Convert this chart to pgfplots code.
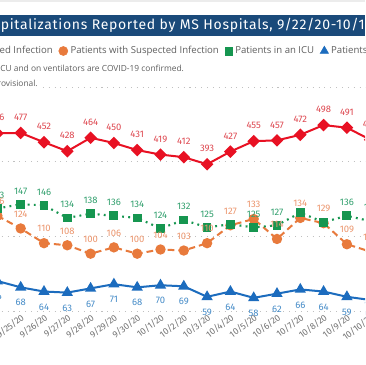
\documentclass[border=0pt]{standalone}
\usepackage{pgfplots}
\pgfplotsset{compat=1.18}
\usepackage{fontspec}
\setmainfont{Fira Sans}
\newfontfamily\osans{Open Sans}
\newfontfamily\titlefont{Fira Sans}[LetterSpace=5]
\definecolor{cred}{RGB}{232,17,35}
\definecolor{corange}{RGB}{232,122,60}
\definecolor{cgreen}{RGB}{22,150,80}
\definecolor{cblue}{RGB}{28,108,190}
\definecolor{lred}{RGB}{222,72,80}
\definecolor{lorange}{RGB}{236,150,110}
\definecolor{lgreen}{RGB}{50,160,110}
\definecolor{lblue}{RGB}{70,140,200}
\definecolor{band}{RGB}{26,74,122}
\definecolor{txtgray}{RGB}{95,95,95}
\definecolor{tickgray}{RGB}{115,115,115}
\pgfplotsset{
  common/.style={scale only axis, width=307.5pt, height=168pt,
    at={(-7.5pt,40.5pt)}, anchor=south west,
    xmin=-0.3176, xmax=17.279,
    /pgf/number format/assume math mode=true},
  lab/.style={draw=none, mark=none, nodes near coords, point meta=y,
    every node near coord/.style={anchor=center, yshift=#1,
      font=\fontsize{7.1pt}{8pt}\selectfont, inner sep=0pt}},
}
\begin{document}
\begin{tikzpicture}
\path[use as bounding box] (0,0) rectangle (273.75pt,273.75pt);
\clip (0,0) rectangle (273.75pt,273.75pt);
\fill[white] (0,0) rectangle (273.75pt,273.75pt);
\fill[gray!15] (0,271.9pt) rectangle (273.75pt,273.75pt);
\fill[band] (0,246.5pt) rectangle (273.75pt,262.5pt);
\node[anchor=base west, text=white, font=\titlefont\fontsize{10.5pt}{12pt}\selectfont, inner sep=0pt]
  at (0.4pt,251.6pt) {\llap{COVID-19 Hos}pitalizations Reported by MS Hospitals, 9/22/20-10/11/20};

\begin{axis}[common, ymin=0, ymax=600, ytick={0,200,400,600}, yticklabels={},
  ymajorgrids, grid style={tickgray!45, line width=0.7pt, dash pattern=on 0.8pt off 3.6pt},
  axis line style={draw=none}, major tick style={draw=none},
  xtick={0,...,17},
  xticklabels={9/24/20,9/25/20,9/26/20,9/27/20,9/28/20,9/29/20,9/30/20,10/1/20,10/2/20,10/3/20,10/4/20,10/5/20,10/6/20,10/7/20,10/8/20,10/9/20,10/10/20,10/11/20},
  xticklabel style={rotate=37, anchor=north east, font=\fontsize{6.8pt}{8pt}\selectfont, text=tickgray, inner sep=1pt},
  ]
\addplot[cred, line width=1.5pt, mark=square*, mark size=2.6pt, mark options={rotate=45, solid}]
  coordinates {(0,476)(1,477)(2,452)(3,428)(4,464)(5,450)(6,431)(7,419)(8,412)(9,393)(10,427)(11,455)(12,457)(13,472)(14,498)(15,491)(16,459)};
\addplot[lab=11.6pt, every node near coord/.append style={text=lred}]
  coordinates {(0,476)(1,477)(2,452)(3,428)(4,464)(5,450)(6,431)(7,419)(8,412)(9,393)(10,427)(11,455)(12,457)(13,472)(14,498)(15,491)(16,459)};
\end{axis}

\begin{axis}[common, ymin=45.5, ymax=258.5, hide axis,
  legend style={at={(-0.243,1.1607)}, anchor=west, draw=none, fill=none,
    font=\osans\fontsize{7.2pt}{9pt}\selectfont, text=txtgray, inner sep=0pt,
    /tikz/every even column/.append style={column sep=2.5pt}},
  legend columns=-1,
  legend image code/.code={\draw[#1] plot coordinates {(0.1cm,0cm)};},
  ]
\addlegendimage{only marks, mark=square*, mark size=2.6pt, mark options={rotate=45}, cred}
\addlegendentry{Patients with Confirmed Infection}
\addlegendimage{only marks, mark=*, mark size=3.4pt, corange}
\addlegendentry{Patients with Suspected Infection}
\addlegendimage{only marks, mark=square*, mark size=2.9pt, cgreen}
\addlegendentry{Patients in an ICU}
\addlegendimage{only marks, mark=triangle*, mark size=3.6pt, cblue}
\addlegendentry{Patients on Ventilators}

\addplot[forget plot, corange, line width=1.5pt, dash pattern=on 5pt off 3pt, mark=*, mark size=3.1pt, mark options={solid}]
  coordinates {(0,136)(1,124)(2,110)(3,108)(4,100)(5,106)(6,100)(7,104)(8,103)(9,110)(10,127)(11,133)(12,114)(13,134)(14,129)(15,109)(16,102)};
\addplot[forget plot, cgreen, line width=1.6pt, dash pattern=on 1.4pt off 3.2pt, mark=square*, mark size=2.5pt, mark options={solid}]
  coordinates {(0,143)(1,147)(2,146)(3,134)(4,138)(5,136)(6,134)(7,124)(8,132)(9,125)(10,128)(11,125)(12,127)(13,139)(14,130)(15,136)(16,131)};
\addplot[forget plot, cblue, line width=1.5pt, mark=triangle*, mark size=3.4pt, mark options={solid}]
  coordinates {(0,74)(1,68)(2,64)(3,63)(4,67)(5,71)(6,68)(7,70)(8,69)(9,59)(10,64)(11,58)(12,62)(13,66)(14,64)(15,59)(16,56)};

\addplot[forget plot, lab=10pt, every node near coord/.append style={text=lgreen}]
  coordinates {(0,143)(1,147)(2,146)(3,134)(4,138)(5,136)(6,134)(7,124)(8,132)(9,125)(11,125)(12,127)(15,136)(16,131)};
\addplot[forget plot, lab=10.8pt, every node near coord/.append style={text=lorange}]
  coordinates {(0,136)(1,124)(2,110)(3,108)(4,100)(5,106)(6,100)(7,104)(8,103)(9,110)(10,127)(11,133)(12,114)(13,134)(14,129)(15,109)(16,102)};
\addplot[forget plot, lab=-11.6pt, every node near coord/.append style={text=lblue}]
  coordinates {(0,74)(1,68)(2,64)(3,63)(4,67)(5,71)(6,68)(7,70)(8,69)(9,59)(10,64)(11,58)(12,62)(13,66)(14,64)(15,59)(16,56)};
\end{axis}

\node[anchor=base west, inner sep=0pt, font=\osans\fontsize{6.3pt}{7pt}\selectfont, text=txtgray]
  at (0pt,220.1pt) {\llap{*Patients in an I}CU and on ventilators are COVID-19 confirmed.};
\node[anchor=base west, inner sep=0.6pt, fill=white, font=\osans\fontsize{6.3pt}{7pt}\selectfont, text=txtgray]
  at (0pt,208.6pt) {\llap{**Data are pr}ovisional.};
\end{tikzpicture}
\end{document}
